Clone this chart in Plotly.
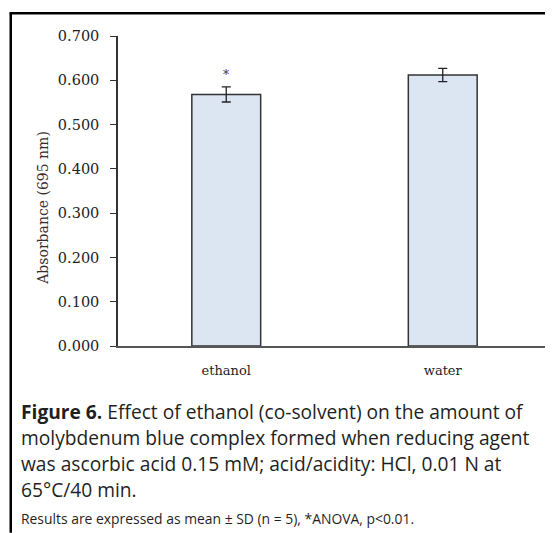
import plotly.graph_objects as go

categories = ["ethanol", "water"]
absorbance = [0.568, 0.612]
sd = [0.017, 0.015]
y_ticks = [0.0, 0.1, 0.2, 0.3, 0.4, 0.5, 0.6, 0.7]
y_tick_labels = ["0.000", "0.100", "0.200", "0.300", "0.400", "0.500", "0.600", "0.700"]
significance = ["*", ""]

caption_lines = [
    "<b>Figure 6.</b> Effect of ethanol (co-solvent) on the amount of",
    "molybdenum blue complex formed when reducing agent",
    "was ascorbic acid 0.15 mM; acid/acidity: HCl, 0.01 N at",
    "65°C/40 min.",
]
footnote = "Results are expressed as mean ± SD (n = 5), *ANOVA, p<0.01."

OFF = 8  # page body margin
W, H = 553 - OFF, 533 - OFF
L, R, T, B = 117.5 - OFF, 1.5, 35.7 - OFF, 187
PH = H - T - B
PW = W - L - R

def py(p):
    return (H - B - (p - OFF)) / PH

def px(p):
    return ((p - OFF) - L) / PW

serif = "DejaVu Serif, Liberation Serif, serif"
sans = "Open Sans, Noto Sans, sans-serif"

fig = go.Figure()
fig.add_trace(go.Bar(
    x=categories, y=absorbance, width=0.318,
    marker=dict(color="#dce6f2", line=dict(color="#333333", width=1.5)),
    error_y=dict(type="data", array=sd, visible=True, color="#222222", thickness=1.3, width=4.5),
    showlegend=False,
))

for c, v, e, s in zip(categories, absorbance, sd, significance):
    if s:
        fig.add_annotation(x=c, y=v + e, xref="x", yref="y", text=s, showarrow=False,
                           yanchor="bottom", yshift=3, font=dict(family=serif, size=12, color="#333"))

fig.update_layout(
    width=W, height=H,
    margin=dict(l=L, r=R, t=T, b=B, pad=0),
    paper_bgcolor="white", plot_bgcolor="white",
    xaxis=dict(range=[-0.5, 1.5], showline=True, linecolor="#555555", linewidth=1.5,
               ticks="", showgrid=False, zeroline=False, ticklabelstandoff=12,
               tickfont=dict(family=serif, size=13, color="#222")),
    yaxis=dict(range=[0, 0.7], tickvals=y_ticks, ticktext=y_tick_labels,
               showline=True, linecolor="#333333", linewidth=1.5,
               ticks="outside", ticklen=6, tickcolor="#333333", tickwidth=1.3,
               showgrid=False, zeroline=False, ticklabelstandoff=8,
               tickfont=dict(family=serif, size=14.5, color="#222")),
)

fig.add_annotation(xref="paper", yref="paper", x=px(42), y=py(208), text="Absorbance (695 nm)",
                   textangle=-90, showarrow=False, xanchor="center", yanchor="middle",
                   font=dict(family=serif, size=14, color="#3a2e2a"))

for i, line in enumerate(caption_lines):
    fig.add_annotation(xref="paper", yref="paper", x=px(18), y=py(412 + 26 * i), text=line,
                       showarrow=False, xanchor="left", yanchor="middle",
                       font=dict(family=sans, size=19.2, color="#1f1f1f"))
fig.add_annotation(xref="paper", yref="paper", x=px(18), y=py(519), text=footnote,
                   showarrow=False, xanchor="left", yanchor="middle",
                   font=dict(family=sans, size=13.9, color="#1f1f1f"))

# frame lines (top and left)
fig.add_shape(type="line", xref="paper", yref="paper", x0=px(9), x1=px(553), y0=py(13), y1=py(13),
              line=dict(color="black", width=2.5))
fig.add_shape(type="line", xref="paper", yref="paper", x0=px(10), x1=px(10), y0=py(12), y1=py(533),
              line=dict(color="black", width=2.5))

fig.write_html("out.html")
